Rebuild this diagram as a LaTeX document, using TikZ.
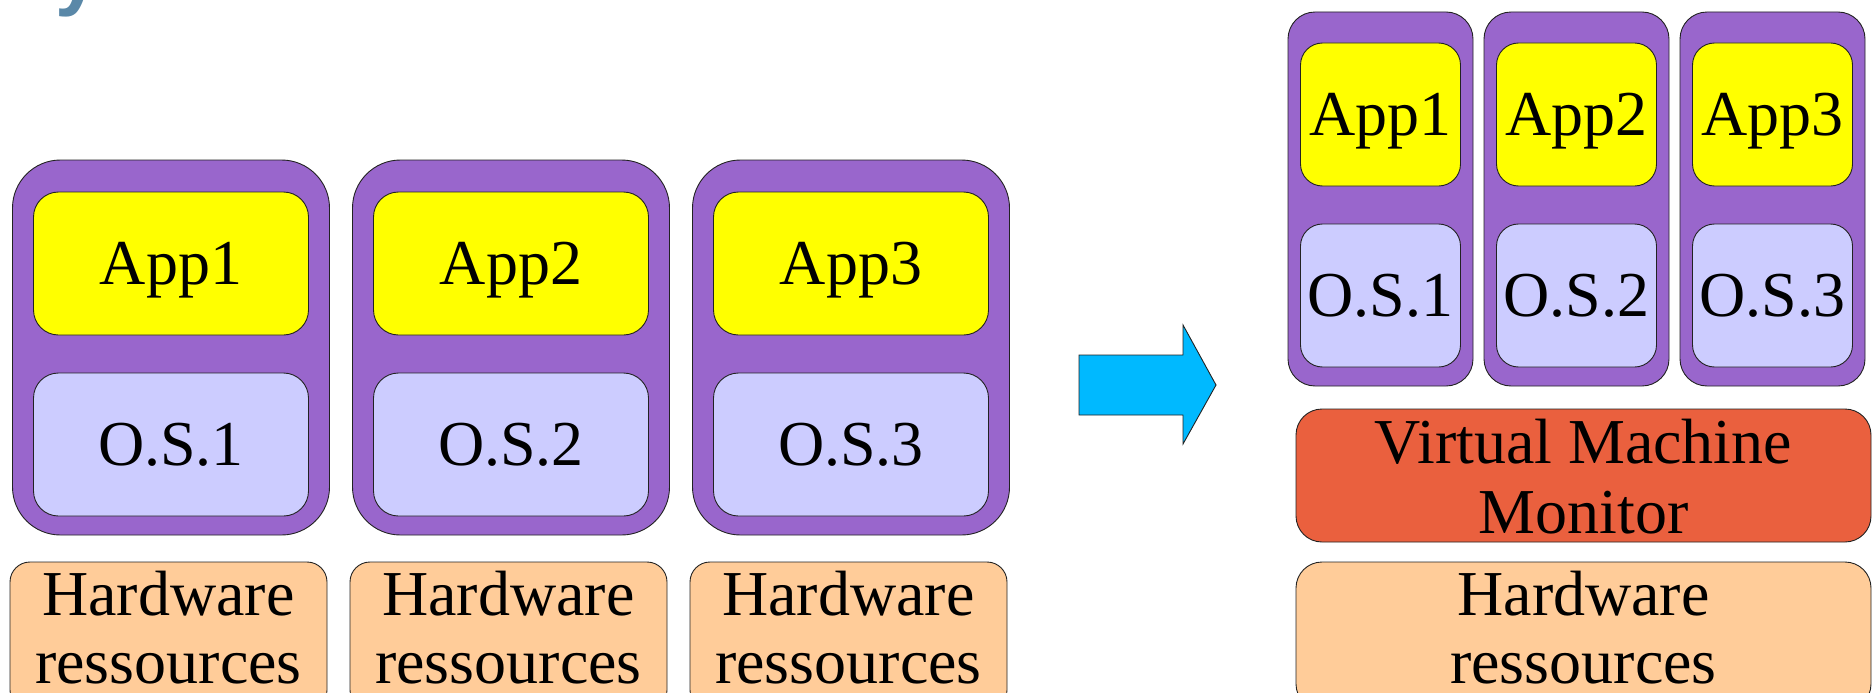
\documentclass[tikz,border=0pt]{standalone}
\usepackage{fontspec}
\setmainfont{Liberation Serif}
\newfontfamily\titlefont{Liberation Sans}

\definecolor{edge}{HTML}{222222}
\definecolor{vmpurple}{HTML}{9966CC}
\definecolor{appyellow}{HTML}{FFFF00}
\definecolor{oslav}{HTML}{CCCCFF}
\definecolor{hwpeach}{HTML}{FFCC99}
\definecolor{vmmred}{HTML}{EA603E}
\definecolor{arrowblue}{HTML}{00B9FF}
\definecolor{titleblue}{HTML}{5A88A8}

\tikzset{
  layer/.style={draw=edge, line width=0.9pt, inner sep=0pt, outer sep=0pt},
  caption/.style={font=\fontsize{64}{68}\selectfont, text height=42.4pt, text depth=0pt},
  linetext/.style={font=\fontsize{64}{68}\selectfont, inner sep=0pt, anchor=base},
  % separate machines
  vmbox/.style={layer, fill=vmpurple, rounded corners=48pt, minimum width=317pt, minimum height=375pt},
  appbox/.style={layer, caption, fill=appyellow, rounded corners=25pt, minimum width=275pt, minimum height=143pt},
  osbox/.style={layer, caption, fill=oslav, rounded corners=25pt, minimum width=275pt, minimum height=143pt},
  hwbox/.style={layer, fill=hwpeach, rounded corners=20pt, minimum width=317pt, minimum height=148pt},
  % virtualised machines
  cvmbox/.style={layer, fill=vmpurple, rounded corners=27pt, minimum width=185pt, minimum height=374pt},
  cappbox/.style={layer, caption, fill=appyellow, rounded corners=22pt, minimum width=160pt, minimum height=143pt},
  cosbox/.style={layer, caption, fill=oslav, rounded corners=22pt, minimum width=160pt, minimum height=143pt},
  wideBox/.style={layer, rounded corners=26pt, minimum width=575pt},
}

\begin{document}
\begin{tikzpicture}[x=1pt,y=-1pt]
  \useasboundingbox (0,0) rectangle (1873,693);
  \clip (0,0) rectangle (1873,693);

  % tail of the heading above
  \node[anchor=base west, inner sep=0pt, text=titleblue,
        font=\titlefont\bfseries\fontsize{80}{80}\selectfont] (heading) at (55,1) {y};

  % one machine per application
  \foreach \i in {1,2,3} {
    \pgfmathsetmacro\cx{171+340*(\i-1)}
    \pgfmathsetmacro\hx{168.5+340*(\i-1)}
    \node[vmbox] (vm\i) at (\cx,347.5) {};
    \node[appbox] (app\i) at (\cx,263.5) {App\i};
    \node[osbox] (os\i) at (\cx,444.5) {O.S.\i};
    \node[hwbox] (hw\i) at (\hx,636) {};
    \node[linetext] (hwa\i) at (\hx,615) {Hardware};
    \node[linetext] (hwb\i) at (\hx,683) {ressources};
  }

  % transition arrow
  \filldraw[fill=arrowblue, draw=edge, line width=0.9pt, line join=miter]
    (1079,355) -- (1183,355) -- (1183,325) -- (1216,385)
    -- (1183,444) -- (1183,415) -- (1079,415) -- cycle;

  % consolidated machine
  \foreach \i in {1,2,3} {
    \pgfmathsetmacro\cx{1380.5+196*(\i-1)}
    \node[cvmbox] (cvm\i) at (\cx,199) {};
    \node[cappbox] (capp\i) at (\cx,114.5) {App\i};
    \node[cosbox] (cos\i) at (\cx,295.5) {O.S.\i};
  }
  \node[wideBox, fill=vmmred, minimum height=133pt] (vmm) at (1583.5,475.5) {};
  \node[linetext] (vmma) at (1583.5,463) {Virtual Machine};
  \node[linetext] (vmmb) at (1583.5,533) {Monitor};
  \node[wideBox, fill=hwpeach, minimum height=148pt] (chw) at (1583.5,636) {};
  \node[linetext] (chwa) at (1583.5,615) {Hardware};
  \node[linetext] (chwb) at (1583.5,683) {ressources};
\end{tikzpicture}
\end{document}
